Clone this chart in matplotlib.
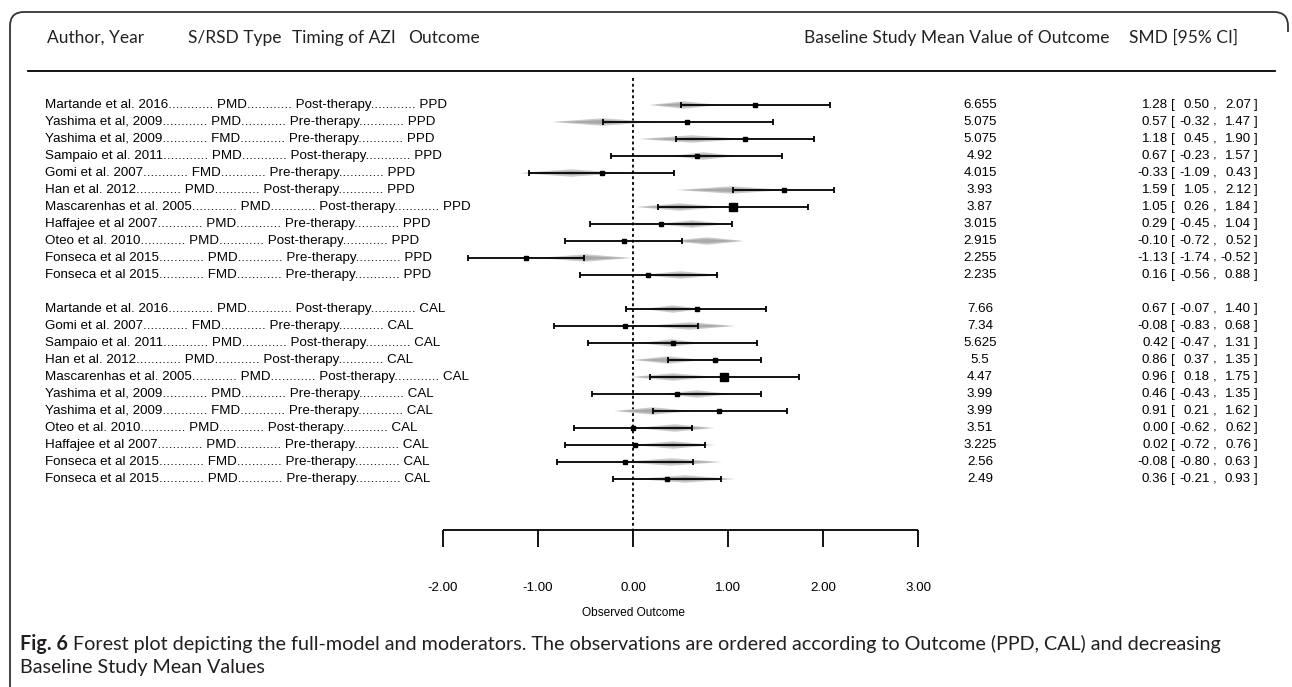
import numpy as np
import matplotlib.pyplot as plt
from matplotlib.transforms import blended_transform_factory
from matplotlib.path import Path
from matplotlib.patches import PathPatch, Polygon

# study rows, top to bottom
studies = ["Martande et al. 2016", "Yashima et al, 2009", "Yashima et al, 2009", "Sampaio et al. 2011",
           "Gomi et al. 2007", "Han et al. 2012", "Mascarenhas et al. 2005", "Haffajee et al 2007",
           "Oteo et al. 2010", "Fonseca et al 2015", "Fonseca et al 2015",
           "Martande et al. 2016", "Gomi et al. 2007", "Sampaio et al. 2011", "Han et al. 2012",
           "Mascarenhas et al. 2005", "Yashima et al, 2009", "Yashima et al, 2009", "Oteo et al. 2010",
           "Haffajee et al 2007", "Fonseca et al 2015", "Fonseca et al 2015"]
rsd = ["PMD", "PMD", "FMD", "PMD", "FMD", "PMD", "PMD", "PMD", "PMD", "PMD", "FMD",
       "PMD", "FMD", "PMD", "PMD", "PMD", "PMD", "FMD", "PMD", "PMD", "FMD", "PMD"]
timing = ["Post", "Pre", "Pre", "Post", "Pre", "Post", "Post", "Pre", "Post", "Pre", "Pre",
          "Post", "Pre", "Post", "Post", "Post", "Pre", "Pre", "Post", "Pre", "Pre", "Pre"]
outcome = ["PPD"] * 11 + ["CAL"] * 11
baseline = [6.655, 5.075, 5.075, 4.92, 4.015, 3.93, 3.87, 3.015, 2.915, 2.255, 2.235,
            7.66, 7.34, 5.625, 5.5, 4.47, 3.99, 3.99, 3.51, 3.225, 2.56, 2.49]
smd = [1.28, 0.57, 1.18, 0.67, -0.33, 1.59, 1.05, 0.29, -0.10, -1.13, 0.16,
       0.67, -0.08, 0.42, 0.86, 0.96, 0.46, 0.91, 0.00, 0.02, -0.08, 0.36]
ci_lo = [0.50, -0.32, 0.45, -0.23, -1.09, 1.05, 0.26, -0.45, -0.72, -1.74, -0.56,
         -0.07, -0.83, -0.47, 0.37, 0.18, -0.43, 0.21, -0.62, -0.72, -0.80, -0.21]
ci_hi = [2.07, 1.47, 1.90, 1.57, 0.43, 2.12, 1.84, 1.04, 0.52, -0.52, 0.88,
         1.40, 0.68, 1.31, 1.35, 1.75, 1.35, 1.62, 0.62, 0.76, 0.63, 0.93]
# fitted values from the model (grey polygons), estimated
fit = [0.54, -0.32, 0.62, 0.74, -0.65, 1.04, 0.49, 0.62, 0.78, -0.50, 0.50,
       0.42, 0.60, 0.40, 0.37, 0.42, 0.67, 0.21, 0.44, 0.42, 0.40, 0.55]
fit_lo = [0.17, -0.86, 0.06, 0.39, -1.20, 0.46, 0.02, 0.25, 0.39, -1.00, 0.08,
          0.10, 0.12, 0.07, 0.00, -0.03, 0.31, -0.20, 0.02, 0.00, -0.14, 0.02]
fit_hi = [0.91, 0.22, 1.18, 1.09, -0.10, 1.62, 0.96, 0.99, 1.17, -0.01, 0.93,
          0.74, 1.08, 0.73, 0.74, 0.88, 1.03, 0.62, 0.86, 0.86, 0.94, 1.08]
weights = [1, 1, 1, 1, 1, 1, 8, 1, 1, 1, 1,
           1, 1, 1, 1, 8, 1, 1, 1, 1, 1, 1]
ticks = [-2, -1, 0, 1, 2, 3]

W, H = 1292, 687
fig = plt.figure(figsize=(W / 100, H / 100), dpi=100)
ax = fig.add_axes([0, 0, 1, 1])
ax.axis('off')
# 95 px per unit, zero at x=633 px; rows 17 px apart, first row at y=105 px
ax.set_xlim(-633 / 95, (W - 633) / 95)
ax.set_ylim((H - 105) / 17, -105 / 17)

n = len(studies)
ypos = np.arange(n) + np.array([o == "CAL" for o in outcome])
axis_y = ypos[-1] + 3

# dotted reference line
ax.vlines(0, -1.6, axis_y, color='black', lw=1.3, linestyles=(0, (1.6, 1.6)), zorder=1)

for i in range(n):
    y = ypos[i]
    h1, h2 = 0.22, 0.12
    ax.add_patch(Polygon([(fit_lo[i], y), (fit[i], y - h1), (fit_hi[i], y), (fit[i], y + h1)],
                         closed=True, fc='#cbcbcb', ec='none', zorder=2))
    ax.add_patch(Polygon([(fit_lo[i] + 0.15 * (fit[i] - fit_lo[i]), y), (fit[i], y - h2),
                          (fit_hi[i] - 0.15 * (fit_hi[i] - fit[i]), y), (fit[i], y + h2)],
                         closed=True, fc='#a9a9a9', ec='none', zorder=2))

ax.hlines(ypos, ci_lo, ci_hi, color='black', lw=1.3, zorder=3)
ax.vlines(ci_lo, ypos - 0.2, ypos + 0.2, color='black', lw=1.3, zorder=3)
ax.vlines(ci_hi, ypos - 0.2, ypos + 0.2, color='black', lw=1.3, zorder=3)
for i in range(n):
    ms = 6.0 if weights[i] > 4 else 2.4
    ax.plot(smd[i], ypos[i], 's', color='black', ms=ms, mec='black', zorder=4)

# x axis
ax.hlines(axis_y, ticks[0], ticks[-1], color='black', lw=1.3)
ax.vlines(ticks, axis_y, axis_y + 1.0, color='black', lw=1.3)
for t in ticks:
    ax.text(t, axis_y + 3.4, f"{t:.2f}", ha='center', va='center',
            family='Liberation Sans', fontsize=9.6)
ax.text(0, axis_y + 4.9, "Observed Outcome", ha='center', va='center',
        family='Liberation Sans', fontsize=8.6)

# row text
tr = blended_transform_factory(fig.transFigure, ax.transData)
dots = "............"
for i in range(n):
    y = ypos[i]
    lab = f"{studies[i]}{dots} {rsd[i]}{dots} {timing[i]}-therapy{dots} {outcome[i]}"
    ax.text(45 / W, y, lab, transform=tr, ha='left', va='center',
            family='Liberation Sans', fontsize=9.6)
    ax.text(980 / W, y, f"{baseline[i]:g}", transform=tr, ha='center', va='center',
            family='Liberation Sans', fontsize=9.6)
    kw = dict(transform=tr, va='center', family='Liberation Sans', fontsize=9.6)
    ax.text(1168 / W, y, f"{smd[i]:.2f}", ha='right', **kw)
    ax.text(1171 / W, y, "[", ha='left', **kw)
    ax.text(1210 / W, y, f"{ci_lo[i]:.2f}", ha='right', **kw)
    ax.text(1213 / W, y, ",", ha='left', **kw)
    ax.text(1251 / W, y, f"{ci_hi[i]:.2f}", ha='right', **kw)
    ax.text(1254 / W, y, "]", ha='left', **kw)

# header
hdr = dict(va='center', family='Lato', fontsize=12.5, color='#222222')
fy = lambda p: 1 - p / H
fig.text(47 / W, fy(38), "Author, Year", **hdr)
fig.text(188 / W, fy(38), "S/RSD Type", **hdr)
fig.text(292 / W, fy(38), "Timing of AZI", **hdr)
fig.text(408 / W, fy(38), "Outcome", **hdr)
fig.text(1110 / W, fy(38), "Baseline Study Mean Value of Outcome", ha='right', **hdr)
fig.text(1238 / W, fy(38), "SMD [95% CI]", ha='right', **hdr)
fig.add_artist(plt.Line2D([28 / W, 1275 / W], [fy(71), fy(71)], color='black', lw=1.3))

# rounded frame
r = 14
verts = [(10, H), (10, 12 + r), (10, 12), (10 + r, 12), (1288 - r, 12), (1288, 12), (1288, 12 + r),
         (1288, 12 + r + 6)]
codes = [Path.MOVETO, Path.LINETO, Path.CURVE3, Path.CURVE3, Path.LINETO, Path.CURVE3, Path.CURVE3,
         Path.LINETO]
verts = [(x / W, fy(y)) for x, y in verts]
fig.add_artist(PathPatch(Path(verts, codes), fc='none', ec='#333333', lw=1.3,
                         transform=fig.transFigure))

# caption
cap = dict(va='center', family='Lato', fontsize=14.2, color='#231f20')
t1 = fig.text(20 / W, fy(644), "Fig. 6", fontweight='bold', **cap)
fig.canvas.draw()
bb = t1.get_window_extent()
fig.text(bb.x1 / W + 5 / W, fy(644),
         "Forest plot depicting the full-model and moderators. The observations are ordered "
         "according to Outcome (PPD, CAL) and decreasing", **cap)
fig.text(20 / W, fy(668), "Baseline Study Mean Values", **cap)

fig.savefig("out.png", dpi=100)
